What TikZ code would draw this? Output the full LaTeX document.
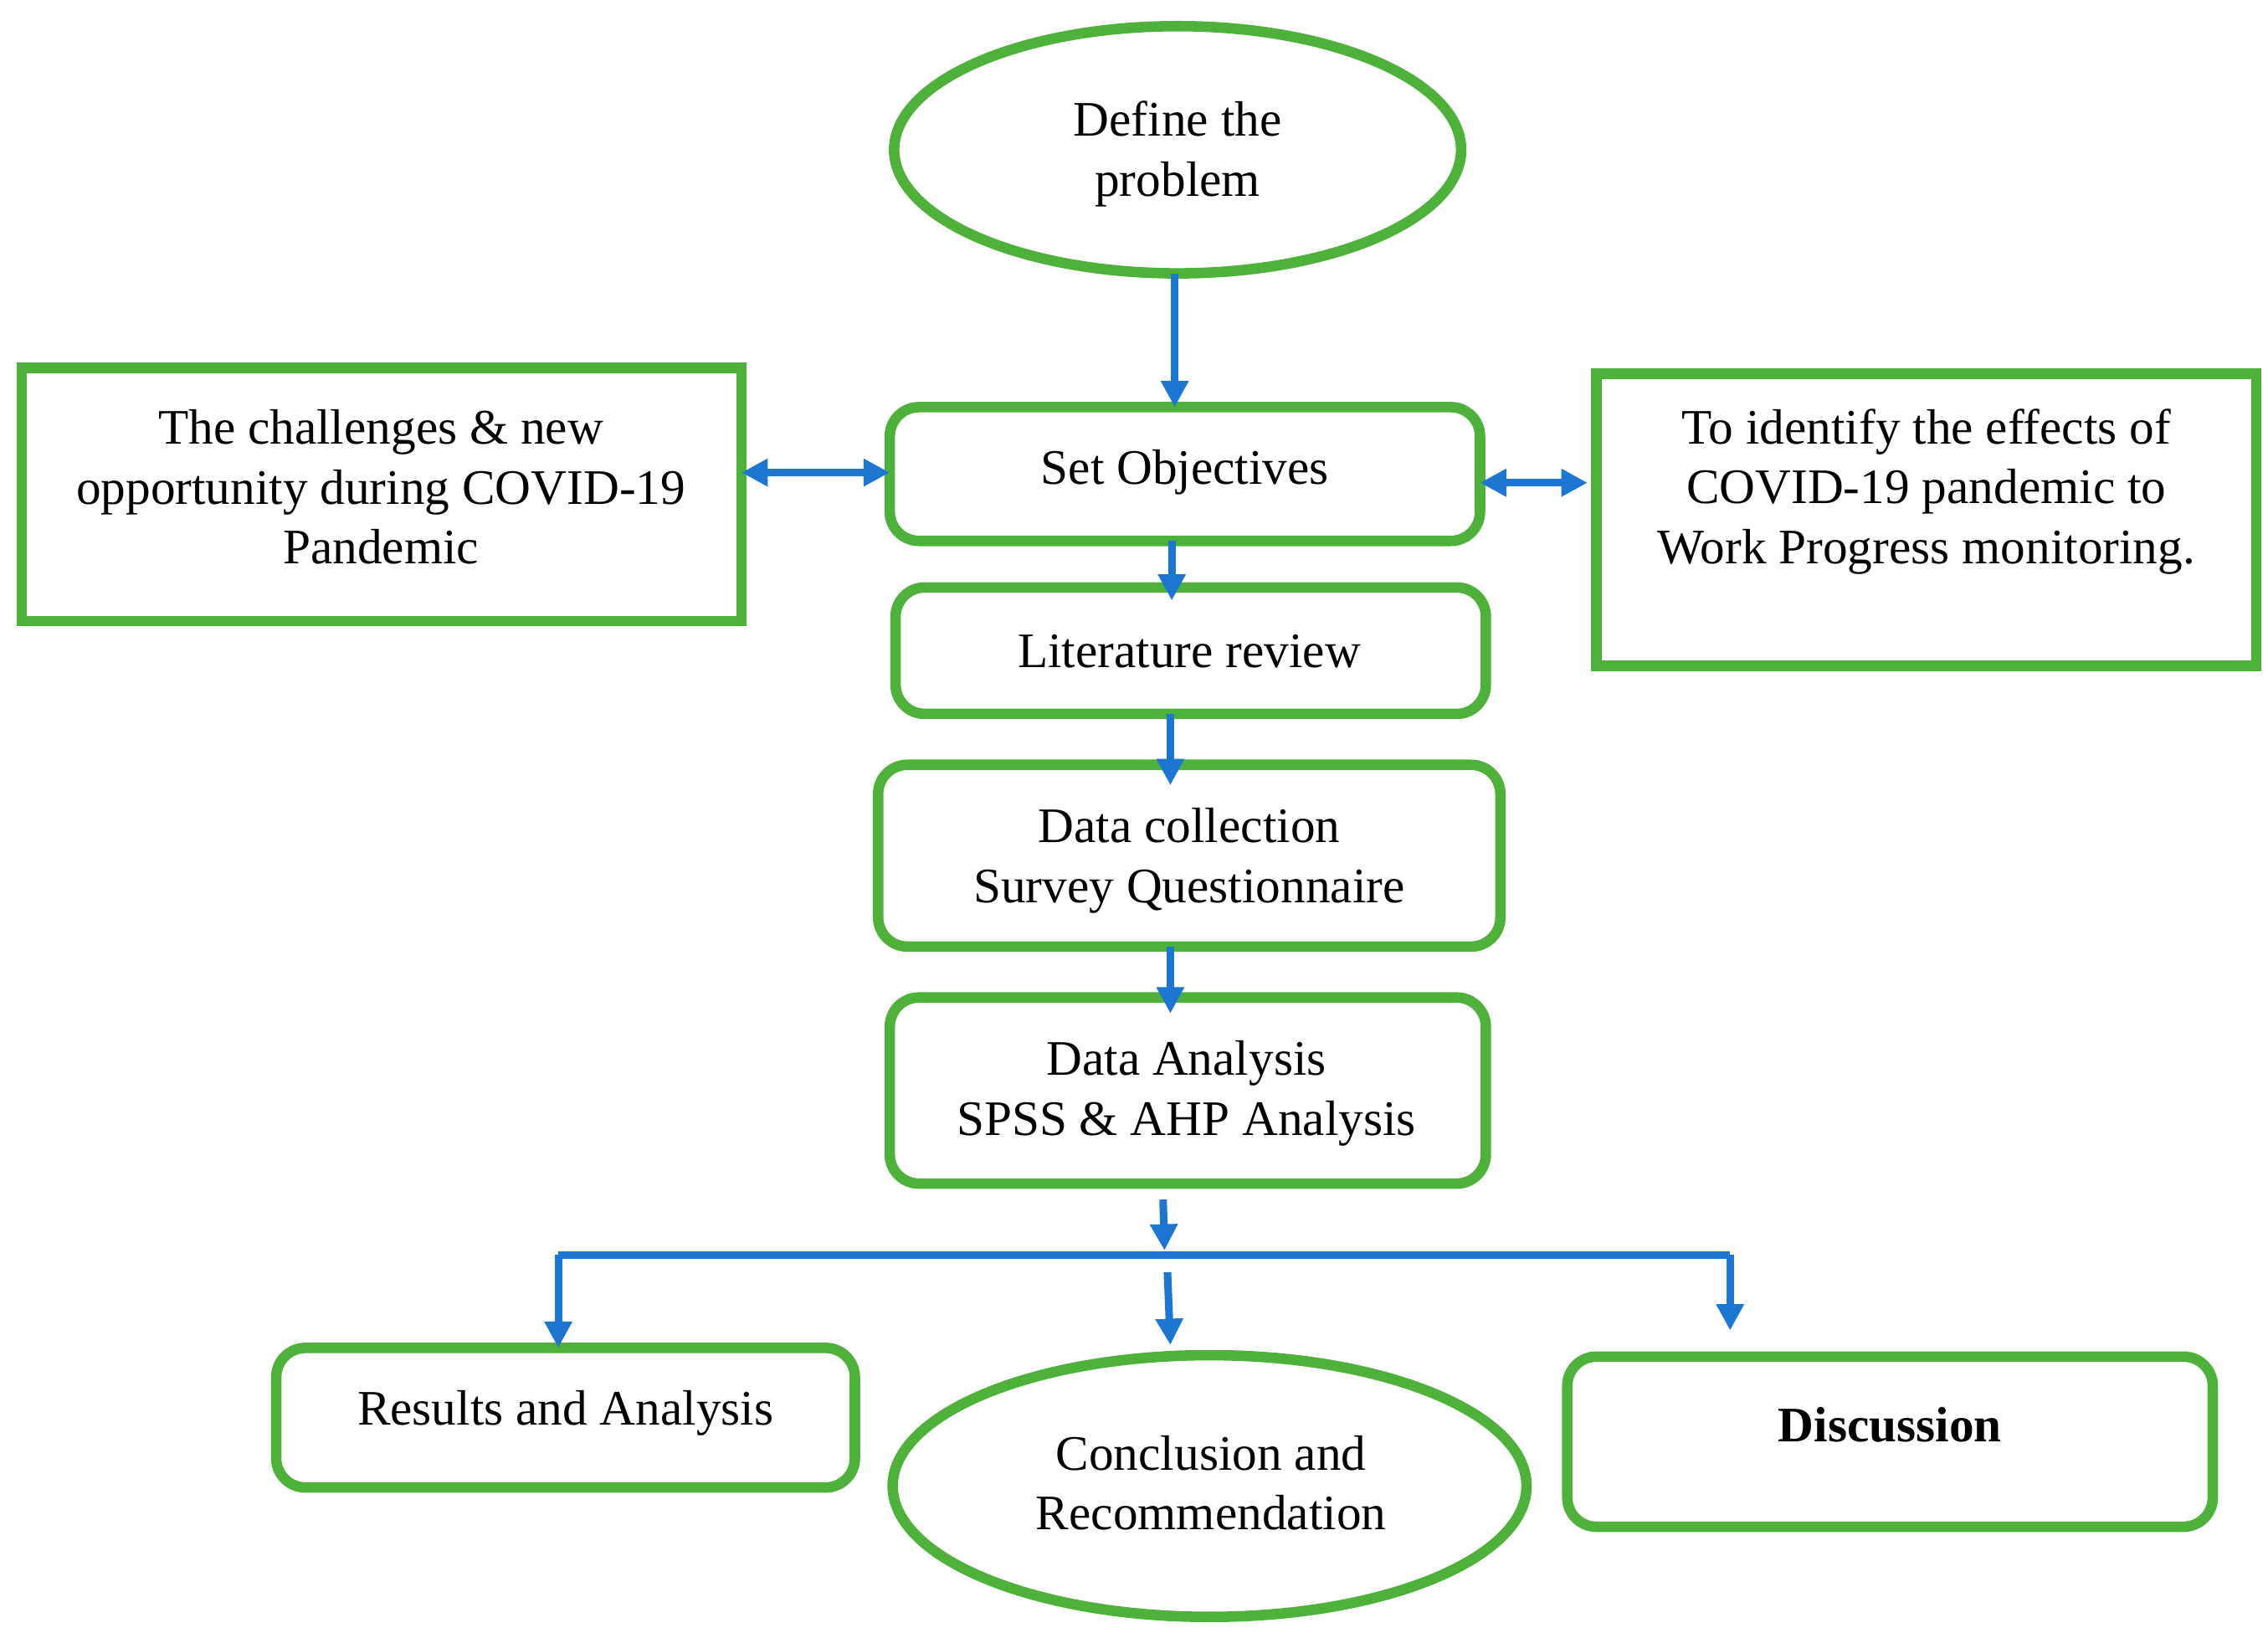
\documentclass[tikz,border=0pt]{standalone}
\usepackage{fontspec}
\setmainfont{Liberation Serif}
\usetikzlibrary{shapes.geometric,arrows.meta}
\definecolor{gr}{RGB}{78,178,58}
\definecolor{bl}{RGB}{28,118,210}
\begin{document}
\begin{tikzpicture}[x=0.0175cm,y=-0.0175cm,
  box/.style={draw=gr,line width=3.6pt,rounded corners=10pt},
  sq/.style={draw=gr,line width=3.6pt},
  el/.style={draw=gr,line width=3.6pt},
  txt/.style={font=\fontsize{17}{20.5}\selectfont,align=center},
  ar/.style={draw=bl,line width=2.6pt,-{Triangle[length=9pt,width=9pt]}},
  dar/.style={draw=bl,line width=2.6pt,{Triangle[length=9pt,width=9pt]}-{Triangle[length=9pt,width=9pt]}}]
\useasboundingbox (0,0) rectangle (1560,1123);
\draw[el] (810,103) ellipse [x radius=195,y radius=85];
\node[txt] (def) at (810,106) {Define the\\problem};
\coordinate (defb) at (808,188);
\draw[box] (612,280) rectangle (1018,372);
\node[txt] (so) at (815,325) {Set Objectives};
\coordinate (sot) at (808,280);
\coordinate (sol) at (612,325);
\coordinate (sor) at (1018,332);
\coordinate (sob) at (806,372);
\draw[sq] (15,253) rectangle (510,427);
\node[txt] (lb) at (262,335) {The challenges \& new\\opportunity during COVID-19\\Pandemic};
\coordinate (lbr) at (510,325);
\draw[sq] (1098,257) rectangle (1552,458);
\node[txt] (rb) at (1325,338) {To identify the effects of\\COVID-19 pandemic to\\Work Progress monitoring.};
\coordinate (rbl) at (1092,332);
\draw[box] (616,404) rectangle (1022,491);
\node[txt] (lit) at (818,448) {Literature review};
\coordinate (litt) at (806,413);
\coordinate (litb) at (805,491);
\draw[box] (604,526) rectangle (1032,651);
\node[txt] (dc) at (818,592) {Data collection\\Survey Questionnaire};
\coordinate (dct) at (805,540);
\coordinate (dcb) at (805,651);
\draw[box] (612,686) rectangle (1022,814);
\node[txt] (da) at (816,752) {Data Analysis\\SPSS \& AHP Analysis};
\coordinate (dat) at (805,697);
\draw[box] (190,927) rectangle (588,1023);
\node[txt] (res) at (389,972) {Results and Analysis};
\draw[el] (832,1022) ellipse [x radius=218,y radius=90];
\node[txt] (con) at (833,1020) {Conclusion and\\Recommendation};
\draw[box] (1078,933) rectangle (1522,1050);
\node[txt,font=\fontsize{17}{20.5}\selectfont\bfseries] (dis) at (1300,980) {Discussion};
\draw[ar] (defb) -- (sot);
\draw[dar] (lbr) -- (sol);
\draw[dar] (sor) -- (rbl);
\draw[ar] (sob) -- (litt);
\draw[ar] (litb) -- (dct);
\draw[ar] (dcb) -- (dat);
\coordinate (m1) at (800,825);
\coordinate (m2) at (801,860);
\coordinate (m3) at (803,875);
\coordinate (m4) at (805,925);
\coordinate (bl) at (384,863);
\coordinate (br) at (1190,863);
\coordinate (rt) at (384,927);
\coordinate (dt) at (1190,915);
\draw[ar] (m1) -- (m2);
\draw[ar] (m3) -- (m4);
\draw[draw=bl,line width=2.6pt] (bl) -- (br);
\draw[ar] (bl) -- (rt);
\draw[ar] (br) -- (dt);
\end{tikzpicture}
\end{document}
